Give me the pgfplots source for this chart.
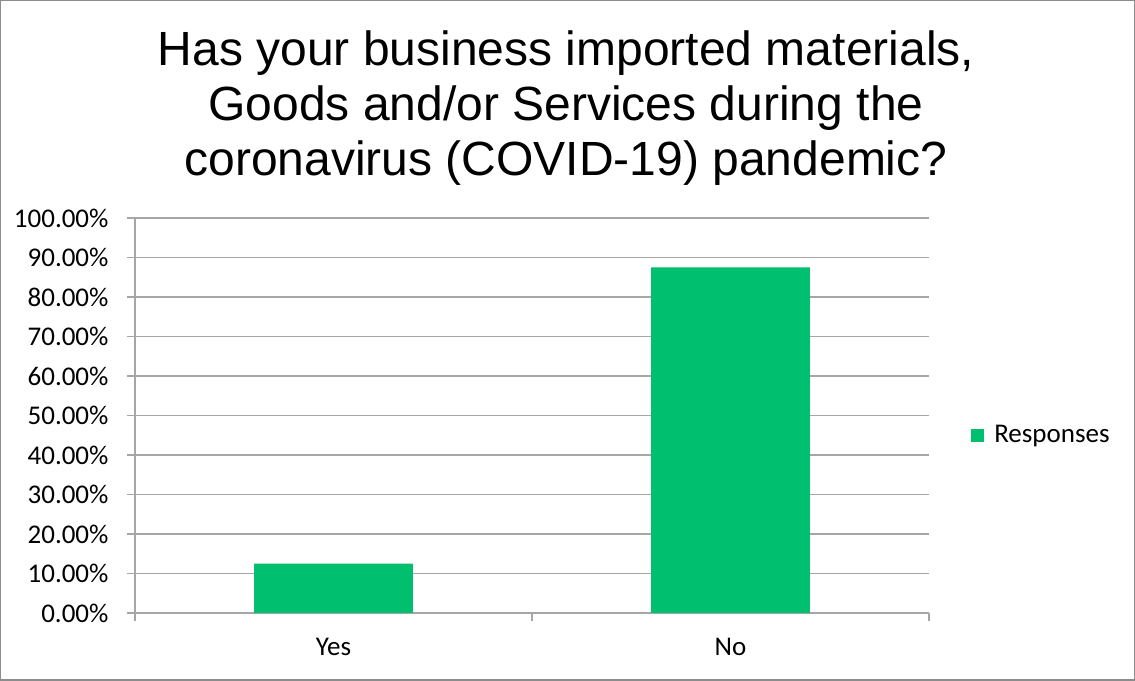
\documentclass[border=0pt]{standalone}
\usepackage{pgfplots}
\pgfplotsset{compat=1.18}
\usepackage{fontspec}
\setmainfont{Carlito}
\newfontfamily\titlefont{Liberation Sans}
\definecolor{bargreen}{RGB}{0,191,111}
\definecolor{gridgray}{RGB}{166,166,166}
\definecolor{framegray}{RGB}{140,140,140}
\begin{document}
\begin{tikzpicture}[x=1bp,y=1bp]
\draw[draw=framegray, line width=1.5bp, fill=white] (0.75,0.75) rectangle (1134.25,680.25);
\node[font=\titlefont\fontsize{48bp}{55bp}\selectfont, align=center] at (566,573)
  {Has your business imported materials,\\ Goods and/or Services during the\\ coronavirus (COVID-19) pandemic?};
\begin{axis}[
  at={(135bp,68bp)}, anchor=south west,
  scale only axis, width=794bp, height=395bp,
  ymin=0, ymax=100, ytick={0,10,...,100},
  xmin=-0.5, xmax=1.5,
  xtick={-0.5,0.5,1.5}, xticklabels={},
  extra x ticks={0,1}, extra x tick labels={Yes,No},
  extra x tick style={tick style={draw=none}, grid=none,
    tick label style={yshift=-14bp}},
  axis lines*=left,
  axis line style={draw=gridgray, line width=1.5bp},
  tick style={draw=gridgray, line width=1.5bp},
  tick align=outside, major tick length=8bp,
  ymajorgrids, grid style={draw=gridgray, line width=1.5bp},
  /pgf/number format/assume math mode=true,
  yticklabel={\pgfmathprintnumber[fixed,fixed zerofill,precision=2]{\tick}\%},
  tick label style={font=\fontsize{27bp}{32bp}\selectfont, text=black},
  yticklabel style={xshift=-15bp},
  legend style={at={(1.053,0.4506)}, anchor=west, draw=none, fill=none,
    font=\fontsize{27bp}{32bp}\selectfont, inner sep=0pt},
]
\addplot[ybar, bar width=0.4, fill=bargreen, draw=none,
  legend image code/.code={\fill[bargreen] (0bp,-6.5bp) rectangle (13bp,6.5bp); \path (21bp,0bp);}]
  coordinates {(0,12.5) (1,87.5)};
\addlegendentry{Responses}
\end{axis}
\end{tikzpicture}
\end{document}
